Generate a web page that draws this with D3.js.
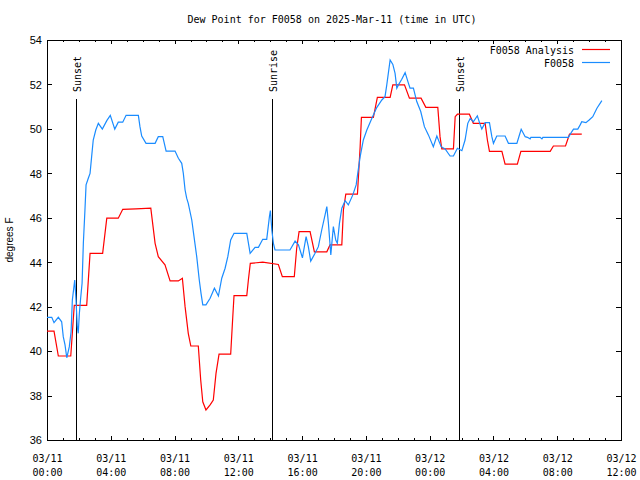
<!DOCTYPE html>
<html>
<head>
<meta charset="utf-8">
<script src="https://cdn.jsdelivr.net/npm/d3@7"></script>
<style>
  html, body { margin: 0; padding: 0; background: #fff; }
  svg { display: block; }
</style>
</head>
<body>
<svg id="chart" width="640" height="480"></svg>
<script>
// ---- DATA (hours after 2025-03-11 00:00 UTC, dew point in °F) ----
const titleText = "Dew Point for F0058 on 2025-Mar-11 (time in UTC)";
const yLabel = "degrees F";
const seriesNames = ["F0058 Analysis", "F0058"];
const seriesColors = ["#ff0000", "#1a8cff"];

const analysisHours = [0, 0.44, 0.71, 1.49, 1.71, 2.49, 2.70, 3.49, 3.75, 4.47, 4.75, 5.58, 6.51, 6.78, 6.98, 7.40, 7.72, 8.24, 8.49, 8.66, 8.86, 9.02, 9.49, 9.64, 9.77, 9.97, 10.23, 10.43, 10.60, 10.79, 11.52, 11.65, 11.73, 12.53, 12.63, 12.75, 13.53, 14.51, 14.76, 15.51, 15.66, 15.81, 16.50, 16.77, 17.55, 17.75, 18.49, 18.59, 18.74, 19.47, 19.64, 19.72, 20.47, 20.72, 21.52, 21.69, 22.42, 22.73, 23.46, 23.76, 24.51, 24.65, 24.76, 25.49, 25.60, 25.74, 26.49, 26.74, 27.48, 27.62, 27.75, 28.53, 28.73, 29.50, 29.72, 31.56, 31.76, 32.52, 32.77, 33.54];
const analysisValues = [40.9, 40.9, 39.78, 39.78, 42.06, 42.06, 44.4, 44.4, 45.98, 45.98, 46.38, 46.4, 46.43, 44.85, 44.25, 43.88, 43.16, 43.16, 43.28, 42.0, 40.8, 40.23, 40.23, 38.7, 37.72, 37.35, 37.58, 37.8, 39.0, 39.86, 39.86, 41.52, 42.5, 42.5, 43.2, 43.95, 44.0, 43.9, 43.35, 43.35, 44.63, 45.38, 45.38, 44.47, 44.47, 44.78, 44.78, 46.35, 47.06, 47.06, 49.2, 50.52, 50.52, 51.42, 51.42, 51.98, 51.98, 51.38, 51.38, 50.97, 50.97, 49.65, 49.1, 49.1, 50.55, 50.66, 50.66, 50.25, 50.25, 49.5, 48.99, 48.99, 48.41, 48.41, 48.99, 48.99, 49.23, 49.23, 49.76, 49.76];

const obsHours = [0, 0.30, 0.44, 0.71, 0.92, 1.02, 1.13, 1.24, 1.40, 1.51, 1.59, 1.69, 1.74, 1.82, 1.90, 1.96, 2.03, 2.11, 2.20, 2.28, 2.38, 2.45, 2.59, 2.70, 2.80, 2.90, 3.06, 3.22, 3.47, 3.75, 3.97, 4.25, 4.47, 4.75, 4.96, 5.73, 5.83, 5.94, 6.21, 6.78, 6.98, 7.26, 7.47, 8.03, 8.24, 8.45, 8.55, 8.66, 8.76, 8.86, 9.08, 9.22, 9.39, 9.55, 9.66, 9.77, 9.97, 10.23, 10.50, 10.75, 10.96, 11.17, 11.34, 11.52, 11.73, 12.53, 12.74, 13.05, 13.26, 13.53, 13.78, 13.95, 14.01, 14.10, 14.20, 14.30, 15.24, 15.56, 15.77, 15.87, 16.02, 16.25, 16.39, 16.54, 16.81, 17.02, 17.23, 17.44, 17.55, 17.65, 17.80, 17.96, 18.11, 18.21, 18.34, 18.49, 18.70, 18.90, 19.18, 19.39, 19.49, 19.64, 19.84, 20.06, 20.37, 20.68, 21.00, 21.20, 21.31, 21.52, 21.69, 21.83, 21.94, 22.04, 22.25, 22.46, 22.67, 22.77, 22.98, 23.19, 23.44, 23.67, 23.92, 24.23, 24.45, 24.72, 24.97, 25.28, 25.49, 25.74, 26.02, 26.22, 26.39, 26.54, 26.74, 26.99, 27.14, 27.27, 27.48, 27.75, 27.90, 28.00, 28.21, 28.73, 28.94, 29.47, 29.61, 29.74, 29.99, 30.13, 30.30, 30.35, 30.93, 31.04, 31.10, 32.70, 32.92, 33.02, 33.29, 33.44, 33.54, 33.80, 34.00, 34.23, 34.49, 34.80];
const obsValues = [41.52, 41.52, 41.28, 41.52, 41.32, 40.65, 40.28, 39.7, 40.2, 40.87, 42.3, 42.9, 43.2, 42.3, 41.1, 40.8, 41.7, 42.38, 43.05, 44.85, 46.35, 47.48, 47.78, 48.0, 48.75, 49.5, 49.95, 50.25, 49.99, 50.37, 50.61, 49.99, 50.3, 50.3, 50.61, 50.61, 50.1, 49.68, 49.35, 49.35, 49.65, 49.65, 49.0, 49.0, 48.68, 48.45, 48.0, 47.25, 46.88, 46.65, 45.9, 45.15, 44.25, 43.2, 42.6, 42.08, 42.08, 42.38, 42.83, 42.48, 43.28, 43.73, 44.25, 45.0, 45.3, 45.3, 44.4, 44.67, 44.67, 45.03, 45.03, 46.05, 46.32, 45.45, 44.85, 44.55, 44.55, 44.95, 44.78, 44.55, 44.2, 45.15, 44.7, 44.05, 44.4, 44.7, 45.45, 46.13, 46.5, 45.75, 44.33, 45.6, 45.0, 44.85, 45.75, 46.43, 46.77, 46.58, 47.03, 47.48, 48.0, 48.75, 49.5, 49.95, 50.47, 50.96, 51.3, 51.45, 51.98, 53.1, 52.9, 52.5, 51.83, 51.98, 52.23, 52.53, 52.05, 51.83, 51.83, 51.23, 50.78, 50.1, 49.73, 49.2, 49.68, 49.2, 49.1, 48.78, 48.78, 49.13, 49.02, 49.5, 50.25, 50.47, 50.32, 50.59, 50.25, 49.99, 50.28, 50.28, 49.65, 49.35, 49.68, 49.68, 49.35, 49.35, 49.68, 49.98, 49.65, 49.62, 49.55, 49.62, 49.62, 49.55, 49.62, 49.62, 49.88, 49.99, 49.99, 50.18, 50.32, 50.28, 50.4, 50.55, 50.93, 51.27];

const eventLabels = ["Sunset", "Sunrise", "Sunset"];
const eventHours = [1.84, 14.13, 25.87];

const xTickHours = [0, 4, 8, 12, 16, 20, 24, 28, 32, 36];
const yTicks = [36, 38, 40, 42, 44, 46, 48, 50, 52, 54];

// ---- CHART ----
const t0 = Date.UTC(2025, 2, 11, 0, 0);
const toDate = h => new Date(t0 + h * 3600000);
const margin = { left: 47, right: 621, top: 40, bottom: 440 };

const svg = d3.select("#chart");
const x = d3.scaleUtc().domain([toDate(0), toDate(36)]).range([margin.left, margin.right]);
const y = d3.scaleLinear().domain([36, 54]).range([margin.bottom, margin.top]);

const mono = "'DejaVu Sans Mono', monospace";
const sans = "'Liberation Sans', Arial, sans-serif";

// Title
svg.append("text").attr("x", 332).attr("y", 23).attr("text-anchor", "middle")
  .attr("font-family", mono).attr("font-size", 10).attr("fill", "#000").text(titleText);

// Minor ticks (every hour)
const minorHours = d3.range(0, 37).filter(h => h % 4 !== 0).map(toDate);
const majorDates = xTickHours.map(toDate);

function styleAxis(g) {
  g.select(".domain").remove();
  g.selectAll("line").attr("stroke", "#000").attr("shape-rendering", "crispEdges");
}

svg.append("g").attr("transform", `translate(0,${margin.bottom})`)
  .call(d3.axisBottom(x).tickValues(minorHours).tickSizeInner(-2).tickSizeOuter(0).tickFormat(""))
  .call(styleAxis);
svg.append("g").attr("transform", `translate(0,${margin.top})`)
  .call(d3.axisTop(x).tickValues(minorHours).tickSizeInner(-2).tickSizeOuter(0).tickFormat(""))
  .call(styleAxis);
svg.append("g").attr("transform", `translate(0,${margin.top})`)
  .call(d3.axisTop(x).tickValues(majorDates).tickSizeInner(-4).tickSizeOuter(0).tickFormat(""))
  .call(styleAxis);

const fmtDate = d3.utcFormat("%m/%d");
const fmtTime = d3.utcFormat("%H:%M");
const xAxisG = svg.append("g").attr("transform", `translate(0,${margin.bottom})`)
  .call(d3.axisBottom(x).tickValues(majorDates).tickSizeInner(-4).tickSizeOuter(0).tickFormat(fmtDate))
  .call(styleAxis);
xAxisG.selectAll("text").each(function(d) {
  const t = d3.select(this);
  t.text(null).attr("y", null).attr("dy", null)
    .attr("font-family", mono).attr("font-size", 10).attr("fill", "#000");
  t.append("tspan").attr("x", 0).attr("y", 22).text(fmtDate(d));
  t.append("tspan").attr("x", 0).attr("y", 36).text(fmtTime(d));
});

const yAxisG = svg.append("g").attr("transform", `translate(${margin.left},0)`)
  .call(d3.axisLeft(y).tickValues(yTicks).tickSizeInner(-5).tickSizeOuter(0).tickPadding(5).tickFormat(d3.format("d")))
  .call(styleAxis);
yAxisG.selectAll("text").attr("font-family", sans).attr("font-size", 11).attr("fill", "#000").attr("dy", "0.35em");

svg.append("g").attr("transform", `translate(${margin.right},0)`)
  .call(d3.axisRight(y).tickValues(yTicks).tickSizeInner(-5).tickSizeOuter(0).tickFormat(""))
  .call(styleAxis);

// Y label
svg.append("text").attr("transform", `translate(13,${(margin.top + margin.bottom) / 2}) rotate(-90)`)
  .attr("text-anchor", "middle").attr("font-family", sans).attr("font-size", 10).attr("fill", "#000")
  .text(yLabel);

// Frame
svg.append("rect").attr("x", margin.left + 0.5).attr("y", margin.top + 0.5)
  .attr("width", margin.right - margin.left).attr("height", margin.bottom - margin.top)
  .attr("fill", "none").attr("stroke", "#000").attr("stroke-width", 1);

// Sunrise / sunset lines
eventHours.forEach((h, i) => {
  const xp = Math.round(x(toDate(h))) + 0.5;
  svg.append("line").attr("x1", xp).attr("x2", xp).attr("y1", 99).attr("y2", margin.bottom)
    .attr("stroke", "#000").attr("stroke-width", 1);
  svg.append("text").attr("transform", `translate(${xp + 4.5},92) rotate(-90)`)
    .attr("text-anchor", "start").attr("font-family", mono).attr("font-size", 10).attr("fill", "#000")
    .text(eventLabels[i]);
});

// Data lines
const line = d3.line().x(d => x(toDate(d[0]))).y(d => y(d[1]));
const analysis = analysisHours.map((h, i) => [h, analysisValues[i]]);
const obs = obsHours.map((h, i) => [h, obsValues[i]]);

svg.append("path").datum(analysis).attr("d", line)
  .attr("fill", "none").attr("stroke", seriesColors[0]).attr("stroke-width", 1.2);
svg.append("path").datum(obs).attr("d", line)
  .attr("fill", "none").attr("stroke", seriesColors[1]).attr("stroke-width", 1.2);

// Legend
const legendY = [49.5, 62.5];
seriesNames.forEach((name, i) => {
  svg.append("text").attr("x", 574).attr("y", legendY[i] + 4).attr("text-anchor", "end")
    .attr("font-family", mono).attr("font-size", 10).attr("fill", "#000").text(name);
  svg.append("line").attr("x1", 582).attr("x2", 610).attr("y1", legendY[i]).attr("y2", legendY[i])
    .attr("stroke", seriesColors[i]).attr("stroke-width", 1.2);
});
</script>
</body>
</html>
